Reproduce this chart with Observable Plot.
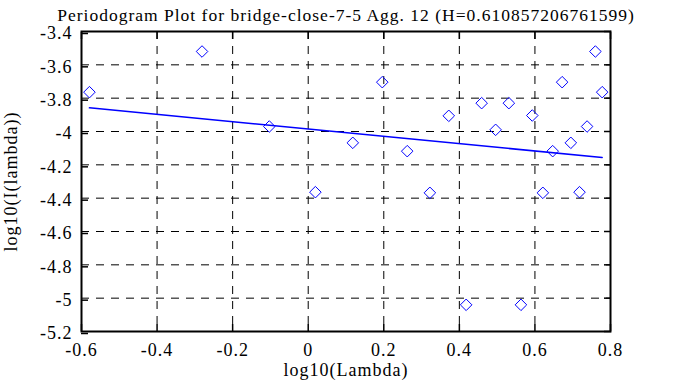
<!DOCTYPE html>
<html>
<head>
<meta charset="utf-8">
<script src="https://cdn.jsdelivr.net/npm/d3@7"></script>
<script src="https://cdn.jsdelivr.net/npm/@observablehq/plot@0.6"></script>
<style>
  body { margin: 0; background: #fff; }
  #chart svg { display: block; }
  #chart svg text { font-family: "Liberation Serif", "DejaVu Serif", serif; letter-spacing: 1px; }
</style>
</head>
<body>
<div id="chart"></div>
<script>
const titleText = "Periodogram Plot for bridge-close-7-5 Agg. 12 (H=0.610857206761599)";
const xLabel = "log10(Lambda)";
const yLabel = "log10(I(lambda))";

const logLambda = [-0.579, -0.281, -0.103, 0.019, 0.118, 0.196, 0.262, 0.322, 0.372, 0.418, 0.459, 0.496,
                   0.531, 0.563, 0.593, 0.621, 0.647, 0.672, 0.695, 0.718, 0.738, 0.760, 0.778];
const logPeriodogram = [-3.764, -3.520, -3.970, -4.364, -4.068, -3.704, -4.118, -4.368, -3.906, -5.040, -3.830, -3.990,
                        -3.830, -5.040, -3.904, -4.368, -4.118, -3.704, -4.068, -4.364, -3.970, -3.520, -3.764];

const fitX = [-0.579, 0.778];
const fitY = [-3.858, -4.156];

const xTicks = [-0.6, -0.4, -0.2, 0, 0.2, 0.4, 0.6, 0.8];
const yTicks = [-3.4, -3.6, -3.8, -4, -4.2, -4.4, -4.6, -4.8, -5, -5.2];

const points = logLambda.map((x, i) => ({x, y: logPeriodogram[i]}));
const fit = fitX.map((x, i) => ({x, y: fitY[i]}));

const fmt = d => String(Math.round(d * 10) / 10);
const font = "Liberation Serif";
const fs = 18;

const chart = Plot.plot({
  width: 688,
  height: 387,
  marginLeft: 81,
  marginRight: 78,
  marginTop: 31,
  marginBottom: 56,
  style: {fontFamily: font, fontSize: fs + "px", background: "#fff", color: "#000"},
  x: {domain: [-0.6, 0.8]},
  y: {domain: [-5.2, -3.4]},
  marks: [
    Plot.gridX(xTicks, {stroke: "#000", strokeOpacity: 1, strokeWidth: 1, strokeDasharray: "8,7"}),
    Plot.gridY(yTicks, {stroke: "#000", strokeOpacity: 1, strokeWidth: 1, strokeDasharray: "8,7"}),
    Plot.line(fit, {x: "x", y: "y", stroke: "#0000ff", strokeWidth: 1.5}),
    Plot.dot(points, {x: "x", y: "y", symbol: "diamond2", r: 5.2, stroke: "#0000ff", strokeWidth: 1, fill: "none"}),
    Plot.axisX(xTicks, {anchor: "bottom", tickSize: -7, tickPadding: 19, tickFormat: fmt, fontSize: fs, fontFamily: font, fontVariant: "normal", strokeWidth: 1.5, label: null}),
    Plot.axisX(xTicks, {anchor: "top", tickSize: -7, tickFormat: () => "", strokeWidth: 1.5, label: null}),
    Plot.axisY(yTicks, {anchor: "left", tickSize: -7, tickPadding: 16, tickFormat: fmt, fontSize: fs, fontFamily: font, fontVariant: "normal", dy: 2, strokeWidth: 1.5, label: null}),
    Plot.axisY(yTicks, {anchor: "right", tickSize: -7, tickFormat: () => "", strokeWidth: 1.5, label: null}),
    Plot.frame({stroke: "#000", strokeWidth: 2}),
    Plot.text([titleText], {frameAnchor: "top", dy: -23, fontSize: 17.5, fontFamily: font, fill: "#000"}),
    Plot.text([xLabel], {frameAnchor: "bottom", dy: 44, fontSize: fs, fontFamily: font, fill: "#000"}),
    Plot.text([yLabel], {frameAnchor: "left", textAnchor: "middle", dx: -70, rotate: -90, fontSize: fs, fontFamily: font, fill: "#000"})
  ]
});
document.getElementById("chart").appendChild(chart);
</script>
</body>
</html>
